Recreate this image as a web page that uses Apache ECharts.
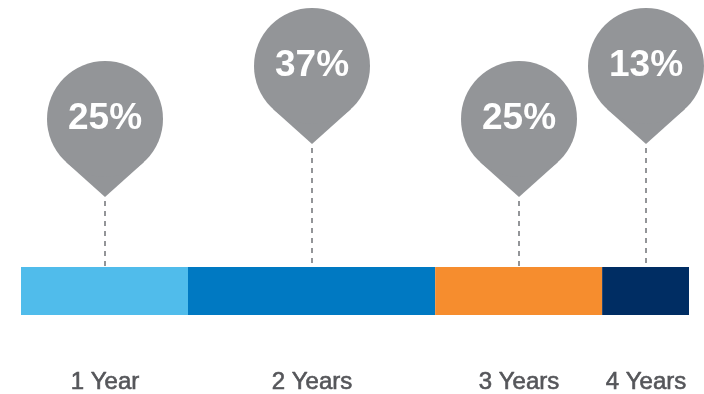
<!DOCTYPE html>
<html>
<head>
<meta charset="utf-8">
<script src="https://cdn.jsdelivr.net/npm/echarts@6/dist/echarts.min.js"></script>
<style>
  html, body { margin: 0; padding: 0; background: #ffffff; }
  #chart { width: 704px; height: 394px; }
</style>
</head>
<body>
<div id="chart"></div>
<script>
// Share of terms, drawn as one stacked 100% bar with a pin over each segment
const categories = ['1 Year', '2 Years', '3 Years', '4 Years'];
const shares = [25, 37, 25, 13];
const shareLabels = ['25%', '37%', '25%', '13%'];

const segmentColors = ['#50BCEB', '#0079C2', '#F68D2E', '#002D63'];
const pinColor = '#939598';
const textColor = '#55565A';
const fontFamily = '"Liberation Sans", Arial, Helvetica, sans-serif';

// How far each pin tip sits above the bar (px): alternating low / high
const pinRise = [70, 123, 70, 123];
const barHeight = 48;
// Pin head radius and distance from head centre down to the tip (px)
const pinRadius = 58;
const pinReach = 78;

// Midpoint of every segment along the 0-100 axis
const midpoints = [];
let running = 0;
shares.forEach(function (v) {
  midpoints.push(running + v / 2);
  running += v;
});

const chart = echarts.init(document.getElementById('chart'), null, { renderer: 'canvas' });

const barSeries = categories.map(function (name, i) {
  return {
    name: name,
    type: 'bar',
    stack: 'total',
    barWidth: barHeight,
    data: [shares[i]],
    itemStyle: { color: segmentColors[i] },
    emphasis: { disabled: true },
    silent: true,
    z: 2
  };
});

// Teardrop pin: a round head with straight sides tangent to it meeting at the tip
function pinShape(x, tipY) {
  const cy = tipY - pinReach;
  const off = pinRadius * pinRadius / pinReach;           // tangent point below centre
  const half = Math.sqrt(pinRadius * pinRadius - off * off);
  return [
    {
      type: 'polygon',
      shape: { points: [[x, tipY], [x + half, cy + off], [x, cy], [x - half, cy + off]] },
      style: { fill: pinColor }
    },
    {
      type: 'circle',
      shape: { cx: x, cy: cy, r: pinRadius },
      style: { fill: pinColor }
    }
  ];
}

const option = {
  animation: false,
  backgroundColor: '#ffffff',
  grid: { left: 21, right: 15, top: 267, height: barHeight },
  xAxis: { type: 'value', min: 0, max: 100, show: false },
  yAxis: { type: 'category', data: ['term'], show: false },
  series: barSeries.concat([
    {
      // pins, dashed leader lines and the term names under the bar
      type: 'custom',
      silent: true,
      clip: false,
      z: 3,
      data: midpoints.map(function (m, i) { return [m, 0, i]; }),
      renderItem: function (params, api) {
        const i = api.value(2);
        const pt = api.coord([api.value(0), 0]);
        const x = Math.round(pt[0]);
        const barTop = pt[1] - barHeight / 2;
        const barBottom = pt[1] + barHeight / 2;
        const tipY = barTop - pinRise[i];
        const children = [
          {
            type: 'line',
            shape: { x1: x, y1: tipY + 4, x2: x, y2: barTop },
            style: { stroke: pinColor, lineWidth: 2, lineDash: [5, 5] }
          }
        ].concat(pinShape(x, tipY)).concat([
          {
            type: 'text',
            x: x,
            y: tipY - pinReach,
            style: {
              text: shareLabels[i],
              fill: '#ffffff',
              font: 'bold 37px ' + fontFamily,
              align: 'center',
              verticalAlign: 'middle'
            }
          },
          {
            type: 'text',
            x: x,
            y: barBottom + 67,
            style: {
              text: categories[i],
              fill: textColor,
              stroke: textColor,
              lineWidth: 0.6,
              font: '24px ' + fontFamily,
              align: 'center',
              verticalAlign: 'middle'
            }
          }
        ]);
        return { type: 'group', children: children };
      }
    }
  ])
};

chart.setOption(option);
</script>
</body>
</html>
